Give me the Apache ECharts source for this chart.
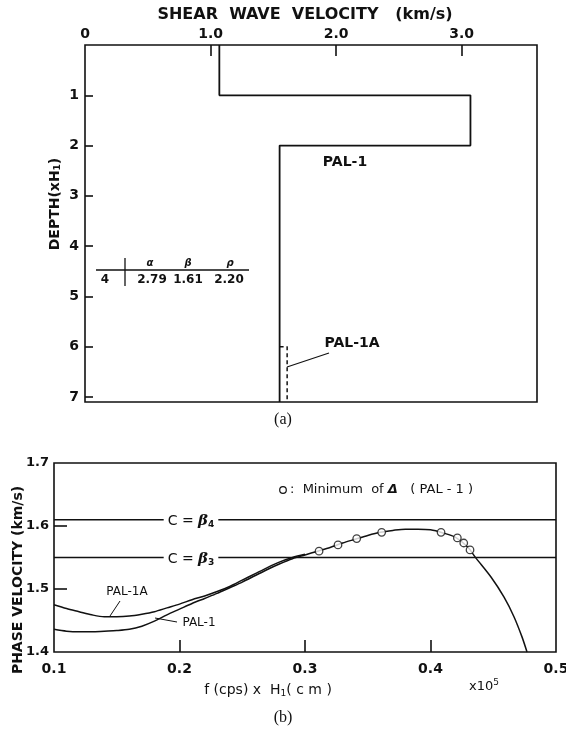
<!DOCTYPE html>
<html>
<head>
<meta charset="utf-8">
<script src="https://cdn.jsdelivr.net/npm/echarts@6/dist/echarts.min.js"></script>
<style>html,body{margin:0;padding:0;background:#fff;}#c{width:566px;height:731px;}</style>
</head>
<body>
<div id="c"></div>
<script>
// ---------- (a) shear wave velocity profile ----------
const velTickLabels = [0, 1, 2, 3];
const velTickMarks = [1, 2, 3];
const depthTicks = [1, 2, 3, 4, 5, 6, 7];
const pal1Velocity = [1.07, 1.07, 3.07, 3.07, 1.55, 1.55];
const pal1Depth    = [0,    1,    1,    2,    2,    7.1];
const pal1aVelocity = [1.55, 1.61, 1.61];
const pal1aDepth    = [6,    6,    7.1];
const tableLayer = '4';
const tableHeaders = ['α', 'β', 'ρ'];
const tableValues = ['2.79', '1.61', '2.20'];

// ---------- (b) phase velocity ----------
const freqTickLabels = [0.1, 0.2, 0.3, 0.4, 0.5];
const freqTickMarks = [0.2, 0.3, 0.4];
const phaseTickLabels = [1.4, 1.5, 1.6, 1.7];
const phaseTickMarks = [1.5, 1.6];
const beta3 = 1.55;
const beta4 = 1.61;
const pal1Freq = [0.10,0.11,0.12,0.13,0.14,0.15,0.16,0.17,0.18,0.19,0.20,0.21,0.22,0.23,0.24,0.25,0.26,0.27,0.28,0.29,0.30,
                  0.31,0.32,0.33,0.34,0.35,0.36,0.37,0.38,0.39,0.40,0.41,0.42,0.43,0.4355,0.4482,0.4586,0.4665,0.4729,0.4769];
const pal1Phase = [1.436,1.433,1.432,1.432,1.433,1.434,1.436,1.441,1.449,1.459,1.468,1.477,1.485,1.493,1.502,1.511,1.521,1.531,1.540,1.548,1.554,
                   1.560,1.566,1.573,1.579,1.585,1.590,1.593,1.595,1.595,1.594,1.589,1.582,1.566,1.551,1.519,1.487,1.456,1.424,1.400];
const pal1aFreq = [0.10,0.11,0.12,0.13,0.14,0.15,0.16,0.17,0.18,0.19,0.20,0.21,0.22,0.23,0.24,0.25,0.26,0.27,0.28,0.29,0.30];
const pal1aPhase = [1.475,1.469,1.464,1.459,1.456,1.456,1.457,1.460,1.464,1.470,1.476,1.483,1.489,1.496,1.504,1.514,1.524,1.534,1.543,1.550,1.555];
const minFreq = [0.3112,0.3263,0.3412,0.3611,0.4084,0.4214,0.4265,0.4315];
const minPhase = [1.560,1.570,1.580,1.590,1.590,1.581,1.573,1.562];

const zip = (a, b) => a.map((v, i) => [v, b[i]]);
const INK = '#111';
const FONT = 'DejaVu Sans';

const chart = echarts.init(document.getElementById('c'), null, {renderer: 'canvas'});

const tickLabel = (extra) => Object.assign({color: INK, fontFamily: FONT, fontSize: 14, fontWeight: 'bold'}, extra);

const option = {
  animation: false,
  backgroundColor: '#fff',
  grid: [
    {left: 85, top: 45, width: 452, height: 357, show: true, borderColor: INK, borderWidth: 1.6, containLabel: false, outerBoundsMode: 'none'},
    {left: 54, top: 463, width: 502, height: 189, show: true, borderColor: INK, borderWidth: 1.6, containLabel: false, outerBoundsMode: 'none'}
  ],
  xAxis: [
    {
      gridIndex: 0, type: 'value', position: 'top', min: 0, max: 3.6, interval: 1,
      axisLine: {show: false},
      axisTick: {show: true, inside: true, length: 11, customValues: velTickMarks, lineStyle: {color: INK, width: 1.6}},
      axisLabel: tickLabel({customValues: velTickLabels, margin: 4, formatter: v => v === 0 ? '0' : v.toFixed(1)}),
      splitLine: {show: false}
    },
    {
      gridIndex: 1, type: 'value', min: 0.1, max: 0.5, interval: 0.1,
      axisLine: {show: false},
      axisTick: {show: true, inside: true, length: 12, customValues: freqTickMarks, lineStyle: {color: INK, width: 1.6}},
      axisLabel: tickLabel({customValues: freqTickLabels, margin: 10, formatter: v => v.toFixed(1)}),
      splitLine: {show: false}
    }
  ],
  yAxis: [
    {
      gridIndex: 0, type: 'value', inverse: true, min: 0, max: 7.1, interval: 1,
      axisLine: {show: false},
      axisTick: {show: true, inside: true, length: 8, customValues: depthTicks, lineStyle: {color: INK, width: 1.6}},
      axisLabel: tickLabel({customValues: depthTicks, margin: 6}),
      splitLine: {show: false}
    },
    {
      gridIndex: 1, type: 'value', min: 1.4, max: 1.7, interval: 0.1,
      axisLine: {show: false},
      axisTick: {show: true, inside: true, length: 13, customValues: phaseTickMarks, lineStyle: {color: INK, width: 1.6}},
      axisLabel: tickLabel({customValues: phaseTickLabels, margin: 5, fontSize: 13, formatter: v => v.toFixed(1)}),
      splitLine: {show: false}
    }
  ],
  series: [
    {type: 'line', xAxisIndex: 0, yAxisIndex: 0, data: zip(pal1Velocity, pal1Depth), symbol: 'none', lineStyle: {color: INK, width: 1.8}, z: 3},
    {type: 'line', xAxisIndex: 0, yAxisIndex: 0, data: zip(pal1aVelocity, pal1aDepth), symbol: 'none', lineStyle: {color: INK, width: 1.5, type: [4, 3]}, z: 3},
    {type: 'line', xAxisIndex: 1, yAxisIndex: 1, data: [[0.1, beta4], [0.5, beta4]], symbol: 'none', lineStyle: {color: INK, width: 1.4}},
    {type: 'line', xAxisIndex: 1, yAxisIndex: 1, data: [[0.1, beta3], [0.5, beta3]], symbol: 'none', lineStyle: {color: INK, width: 1.4}},
    {type: 'line', xAxisIndex: 1, yAxisIndex: 1, data: zip(pal1aFreq, pal1aPhase), symbol: 'none', smooth: 0.3, lineStyle: {color: INK, width: 1.5}},
    {type: 'line', xAxisIndex: 1, yAxisIndex: 1, data: zip(pal1Freq, pal1Phase), symbol: 'none', smooth: 0.3, lineStyle: {color: INK, width: 1.5}},
    {type: 'scatter', xAxisIndex: 1, yAxisIndex: 1, data: zip(minFreq, minPhase), symbol: 'circle', symbolSize: 7.5,
     itemStyle: {color: '#fff', borderColor: INK, borderWidth: 1.3}, z: 5}
  ],
  graphic: [
    // (a) titles
    {type: 'text', x: 305, y: 15, style: {text: 'SHEAR  WAVE  VELOCITY   (km/s)', font: 'bold 16px "DejaVu Sans"', fill: INK, align: 'center', verticalAlign: 'middle'}},
    {type: 'text', x: 55, y: 204, rotation: Math.PI / 2, style: {text: '{a|DEPTH(xH}{s|1}{a|)}', align: 'center', verticalAlign: 'middle', fill: INK,
      rich: {a: {font: 'bold 14px "DejaVu Sans"', fill: INK}, s: {font: 'bold 9px "DejaVu Sans"', fill: INK, padding: [6, 0, 0, 0]}}}},
    {type: 'text', x: 345, y: 162, style: {text: 'PAL-1', font: 'bold 14px "DejaVu Sans"', fill: INK, align: 'center', verticalAlign: 'middle'}},
    {type: 'text', x: 352, y: 343, style: {text: 'PAL-1A', font: 'bold 14px "DejaVu Sans"', fill: INK, align: 'center', verticalAlign: 'middle'}},
    {type: 'line', shape: {x1: 287, y1: 367, x2: 329, y2: 353}, style: {stroke: INK, lineWidth: 1.3}},
    // inset table
    {type: 'line', shape: {x1: 96, y1: 270, x2: 249, y2: 270}, style: {stroke: INK, lineWidth: 1.3}},
    {type: 'line', shape: {x1: 125, y1: 258, x2: 125, y2: 286}, style: {stroke: INK, lineWidth: 1.3}},
    {type: 'text', x: 150, y: 263, style: {text: tableHeaders[0], font: 'italic bold 10px "DejaVu Sans"', fill: INK, align: 'center', verticalAlign: 'middle'}},
    {type: 'text', x: 188, y: 263, style: {text: tableHeaders[1], font: 'italic bold 10px "DejaVu Sans"', fill: INK, align: 'center', verticalAlign: 'middle'}},
    {type: 'text', x: 230, y: 263, style: {text: tableHeaders[2], font: 'italic bold 10px "DejaVu Sans"', fill: INK, align: 'center', verticalAlign: 'middle'}},
    {type: 'text', x: 105, y: 280, style: {text: tableLayer, font: 'bold 12px "DejaVu Sans"', fill: INK, align: 'center', verticalAlign: 'middle'}},
    {type: 'text', x: 152, y: 280, style: {text: tableValues[0], font: 'bold 12px "DejaVu Sans"', fill: INK, align: 'center', verticalAlign: 'middle'}},
    {type: 'text', x: 188, y: 280, style: {text: tableValues[1], font: 'bold 12px "DejaVu Sans"', fill: INK, align: 'center', verticalAlign: 'middle'}},
    {type: 'text', x: 229, y: 280, style: {text: tableValues[2], font: 'bold 12px "DejaVu Sans"', fill: INK, align: 'center', verticalAlign: 'middle'}},
    {type: 'text', x: 283, y: 420, style: {text: '(a)', font: '16px "Liberation Serif"', fill: INK, align: 'center', verticalAlign: 'middle'}},
    // (b) annotations
    {type: 'text', x: 18, y: 580, rotation: Math.PI / 2, style: {text: 'PHASE VELOCITY (km/s)', font: 'bold 14px "DejaVu Sans"', fill: INK, align: 'center', verticalAlign: 'middle'}},
    {type: 'text', x: 191, y: 521, z: 10, style: {text: '{a|C = }{b|β}{s|4}', align: 'center', verticalAlign: 'middle', backgroundColor: '#fff', padding: [0, 4, 0, 4],
      rich: {a: {font: '14px "DejaVu Sans"', fill: INK}, b: {font: 'italic bold 15px "DejaVu Serif"', fill: INK}, s: {font: 'bold 9px "DejaVu Sans"', fill: INK, padding: [7, 0, 0, 0]}}}},
    {type: 'text', x: 191, y: 559, z: 10, style: {text: '{a|C = }{b|β}{s|3}', align: 'center', verticalAlign: 'middle', backgroundColor: '#fff', padding: [0, 4, 0, 4],
      rich: {a: {font: '14px "DejaVu Sans"', fill: INK}, b: {font: 'italic bold 15px "DejaVu Serif"', fill: INK}, s: {font: 'bold 9px "DejaVu Sans"', fill: INK, padding: [7, 0, 0, 0]}}}},
    {type: 'circle', shape: {cx: 283, cy: 490, r: 3.3}, style: {fill: '#fff', stroke: INK, lineWidth: 1.2}},
    {type: 'text', x: 290, y: 490, style: {text: '{a|:  Minimum  of }{b|Δ}{a|   ( PAL - 1 )}', align: 'left', verticalAlign: 'middle',
      rich: {a: {font: '13px "DejaVu Sans"', fill: INK}, b: {font: 'italic bold 13px "DejaVu Sans"', fill: INK}}}},
    {type: 'text', x: 127, y: 592, style: {text: 'PAL-1A', font: '12px "DejaVu Sans"', fill: INK, align: 'center', verticalAlign: 'middle'}},
    {type: 'line', shape: {x1: 120, y1: 601, x2: 110, y2: 616}, style: {stroke: INK, lineWidth: 1}},
    {type: 'text', x: 199, y: 623, style: {text: 'PAL-1', font: '12px "DejaVu Sans"', fill: INK, align: 'center', verticalAlign: 'middle'}},
    {type: 'line', shape: {x1: 177, y1: 622, x2: 155, y2: 618}, style: {stroke: INK, lineWidth: 1}},
    {type: 'text', x: 268, y: 690, style: {text: '{a|f (cps) x  H}{s|1}{a|( c m )}', align: 'center', verticalAlign: 'middle',
      rich: {a: {font: '14px "DejaVu Sans"', fill: INK}, s: {font: '9px "DejaVu Sans"', fill: INK, padding: [7, 0, 0, 0]}}}},
    {type: 'text', x: 484, y: 687, style: {text: '{a|x10}{s|5}', align: 'center', verticalAlign: 'middle',
      rich: {a: {font: '13px "DejaVu Sans"', fill: INK}, s: {font: '9px "DejaVu Sans"', fill: INK, padding: [0, 0, 9, 0]}}}},
    {type: 'text', x: 283, y: 718, style: {text: '(b)', font: '16px "Liberation Serif"', fill: INK, align: 'center', verticalAlign: 'middle'}}
  ]
};
chart.setOption(option);
</script>
</body>
</html>
